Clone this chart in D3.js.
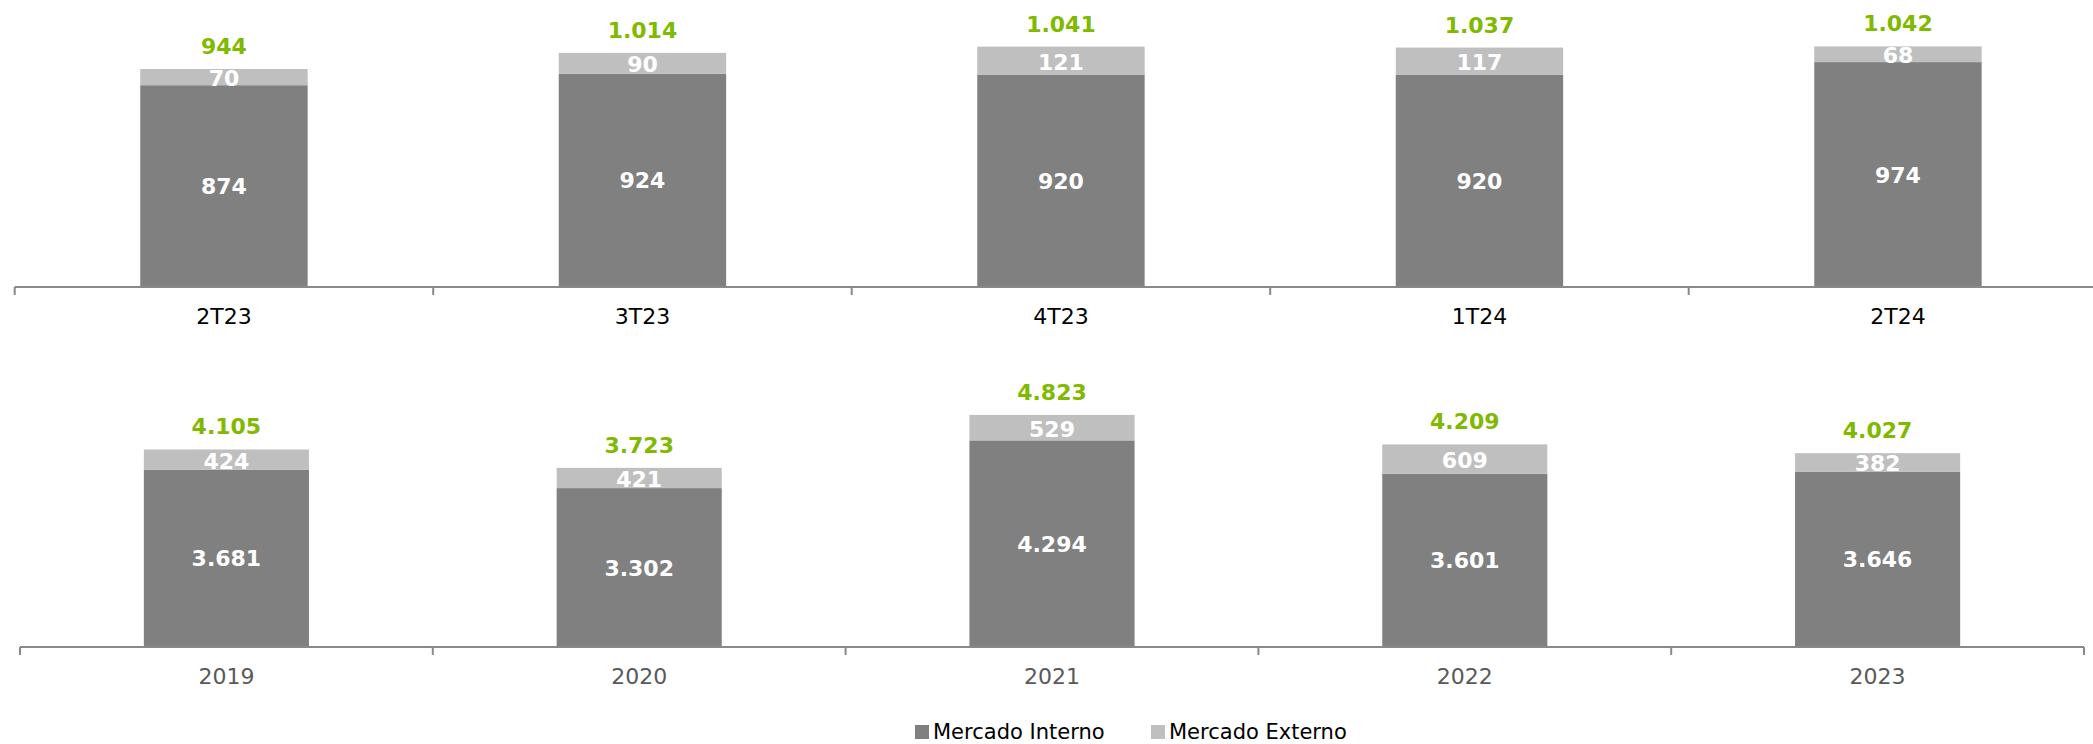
<!DOCTYPE html>
<html>
<head>
<meta charset="utf-8">
<script src="https://cdn.jsdelivr.net/npm/d3@7/dist/d3.min.js"></script>
<style>
  html, body { margin: 0; padding: 0; background: #fff; }
  svg { display: block; font-family: "DejaVu Sans", Verdana, sans-serif; }
</style>
</head>
<body>
<svg id="chart" width="2093" height="744"></svg>
<script>
// ---- data ----
const quarters = ["2T23", "3T23", "4T23", "1T24", "2T24"];
const quarterInterno = [874, 924, 920, 920, 974];
const quarterExterno = [70, 90, 121, 117, 68];
const quarterTotal = [944, 1014, 1041, 1037, 1042];

const years = ["2019", "2020", "2021", "2022", "2023"];
const yearInterno = [3681, 3302, 4294, 3601, 3646];
const yearExterno = [424, 421, 529, 609, 382];
const yearTotal = [4105, 3723, 4823, 4209, 4027];

const seriesNames = ["Mercado Interno", "Mercado Externo"];

// ---- styles ----
const cInterno = "#808080";
const cExterno = "#BFBFBF";
const cTotal = "#7FBA00";
const cAxis = "#898989";
const fmt = v => d3.format(",")(v).replace(/,/g, ".");

const svg = d3.select("#chart");

function panel(cats, interno, externo, total, opt) {
  const n = cats.length;
  const x = d3.scaleBand().domain(cats)
    .range([opt.x0, opt.x0 + n * opt.step])
    .paddingInner(0.6).paddingOuter(0.3);
  const y = d3.scaleLinear().domain([0, opt.refVal]).range([opt.axisY, opt.axisY - opt.refVal * opt.k]);
  const g = svg.append("g");

  const rows = cats.map((c, i) => ({ c, a: interno[i], b: externo[i], t: total[i] }));

  // bars
  g.selectAll("rect.in").data(rows).join("rect")
    .attr("x", d => x(d.c)).attr("width", x.bandwidth())
    .attr("y", d => y(d.a)).attr("height", d => y(0) - y(d.a))
    .attr("fill", cInterno);
  g.selectAll("rect.ex").data(rows).join("rect")
    .attr("x", d => x(d.c)).attr("width", x.bandwidth())
    .attr("y", d => y(d.a + d.b)).attr("height", d => y(d.a) - y(d.a + d.b))
    .attr("fill", cExterno);

  // axis line + ticks
  g.append("line").attr("x1", opt.x0).attr("x2", Math.min(2093, opt.x0 + n * opt.step))
    .attr("y1", opt.axisY).attr("y2", opt.axisY)
    .attr("stroke", cAxis).attr("stroke-width", 2);
  const bounds = d3.range(n + 1).map(i => opt.x0 + i * x.step());
  g.selectAll("line.tk").data(bounds).join("line")
    .attr("x1", d => d).attr("x2", d => d)
    .attr("y1", opt.axisY).attr("y2", opt.axisY + 8)
    .attr("stroke", cAxis).attr("stroke-width", 2);

  const cx = d => x(d.c) + x.bandwidth() / 2;

  // category labels
  g.selectAll("text.cat").data(rows).join("text")
    .attr("x", cx).attr("y", opt.axisY + 37)
    .attr("text-anchor", "middle").attr("font-size", 22)
    .attr("fill", opt.catColor).text(d => d.c);

  // segment labels
  g.selectAll("text.lin").data(rows).join("text")
    .attr("x", cx).attr("y", d => (y(0) + y(d.a)) / 2 + 8)
    .attr("text-anchor", "middle").attr("font-size", 22).attr("font-weight", "bold")
    .attr("fill", "#fff").text(d => fmt(d.a));
  g.selectAll("text.lex").data(rows).join("text")
    .attr("x", cx).attr("y", d => (y(d.a) + y(d.a + d.b)) / 2 + 9)
    .attr("text-anchor", "middle").attr("font-size", 22).attr("font-weight", "bold")
    .attr("fill", "#fff").text(d => fmt(d.b));

  // totals
  g.selectAll("text.tot").data(rows).join("text")
    .attr("x", cx).attr("y", d => y(d.t) - 15)
    .attr("text-anchor", "middle").attr("font-size", 22).attr("font-weight", "bold")
    .attr("fill", cTotal).text(d => fmt(d.t));
}

panel(quarters, quarterInterno, quarterExterno, quarterTotal,
  { x0: 14.7, step: 418.5, axisY: 287, refVal: 1000, k: 0.2309, catColor: "#000" });
panel(years, yearInterno, yearExterno, yearTotal,
  { x0: 20, step: 412.8, axisY: 647, refVal: 4000, k: 0.04812, catColor: "#595959" });

// legend
const legend = svg.append("g");
const lx = [915, 1151];
const lcol = [cInterno, cExterno];
legend.selectAll("rect").data(seriesNames).join("rect")
  .attr("x", (d, i) => lx[i]).attr("y", 725).attr("width", 14).attr("height", 14)
  .attr("fill", (d, i) => lcol[i]);
legend.selectAll("text").data(seriesNames).join("text")
  .attr("x", (d, i) => lx[i] + 18).attr("y", 739)
  .attr("font-size", 21).attr("fill", "#000").text(d => d);
</script>
</body>
</html>
